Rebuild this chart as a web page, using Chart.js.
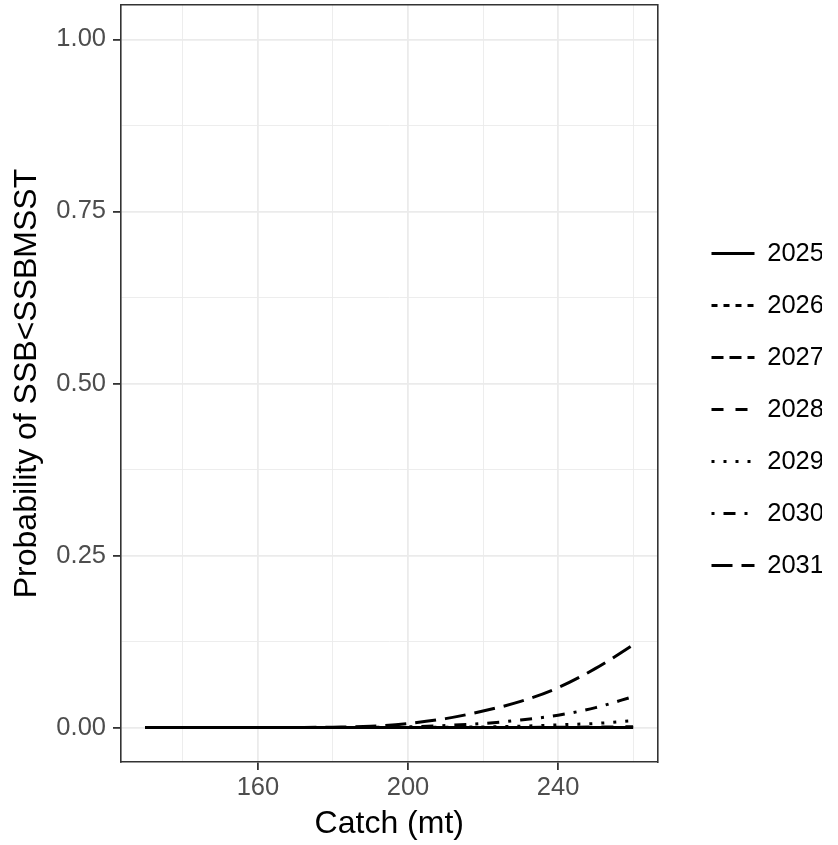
<!DOCTYPE html>
<html>
<head>
<meta charset="utf-8">
<script src="https://cdn.jsdelivr.net/npm/chart.js@4.4.1/dist/chart.umd.min.js"></script>
<style>
  html, body { margin: 0; padding: 0; background: #ffffff; }
</style>
</head>
<body>
<canvas id="graphProb" width="838" height="845"></canvas>
<script>
// ----------------------------------------------------------------------------------------------
// Données
const catchMt = [130, 140, 150, 160, 170, 180, 190, 200, 210, 220, 230, 240, 250, 260];
const years = ['2025', '2026', '2027', '2028', '2029', '2030', '2031'];

const prob2025 = [0, 0, 0, 0, 0, 0, 0, 0, 0, 0, 0, 0, 0, 0];
const prob2026 = [0, 0, 0, 0, 0, 0, 0, 0, 0, 0, 0, 0, 0, 0];
const prob2027 = [0, 0, 0, 0, 0, 0, 0, 0, 0, 0, 0, 0, 0, 0];
const prob2028 = [0, 0, 0, 0, 0, 0, 0, 0, 0, 0.0001, 0.0002, 0.0005, 0.0008, 0.0012];
const prob2029 = [0, 0, 0, 0, 0, 0, 0, 0.0002, 0.0005, 0.001, 0.002, 0.004, 0.006, 0.010];
const prob2030 = [0, 0, 0, 0, 0, 0, 0.0003, 0.001, 0.003, 0.006, 0.011, 0.018, 0.029, 0.045];
const prob2031 = [0, 0, 0, 0, 0.0002, 0.0006, 0.0018, 0.006, 0.013, 0.024, 0.038, 0.058, 0.086, 0.120];

const allProbs = [prob2025, prob2026, prob2027, prob2028, prob2029, prob2030, prob2031];

// graduations
const xGridValues = [140, 160, 180, 200, 220, 240, 260];
const xMajorTicks = [160, 200, 240];
const yGridValues = [0, 0.125, 0.25, 0.375, 0.5, 0.625, 0.75, 0.875, 1];
const yMajorTicks = [0, 0.25, 0.5, 0.75, 1];

// types de traits façon ggplot (unité = épaisseur du trait)
const lw = 3;
const dashes = [[], [2, 2], [4, 2], [4, 4], [1, 3], [1, 3, 4, 3], [7, 3]].map(d => d.map(v => v * lw));

const FONT = "'Liberation Sans', Arial, sans-serif";
const TICK_SIZE = 25.5;
const TITLE_SIZE = 32;
const majorX = v => xMajorTicks.includes(v);
const majorY = v => yMajorTicks.some(t => Math.abs(t - v) < 1e-9);

const datasets = years.map((year, i) => ({
    label: year,
    data: catchMt.map((c, k) => ({ x: c, y: allProbs[i][k] })),
    borderColor: '#000000',
    backgroundColor: '#000000',
    borderWidth: lw,
    borderDash: dashes[i],
    borderCapStyle: 'butt',
    pointRadius: 0,
    pointStyle: 'line',
    cubicInterpolationMode: 'monotone',
    fill: false
}));

// la légende ggplot est un peu plus haute que le centrage de Chart.js
const legendNudge = {
    id: 'legendNudge',
    afterLayout(chart) {
        if (!chart.legend) return;
        chart.legend.top -= 13;
        chart.legend.bottom -= 13;
    }
};

// pas de marge auto autour des axes : on fixe la zone du panneau
const noPad = s => { s.paddingTop = 0; s.paddingBottom = 0; s.paddingLeft = 0; s.paddingRight = 0; };

const ctx = document.getElementById('graphProb').getContext('2d');

new Chart(ctx, {
    type: 'line',
    data: { datasets },
    plugins: [legendNudge],
    options: {
        responsive: false,
        animation: false,
        devicePixelRatio: 1,
        layout: { padding: { top: 0, right: 16, bottom: 0, left: 0 } },
        plugins: {
            tooltip: { enabled: false },
            legend: {
                position: 'right',
                labels: {
                    usePointStyle: true,
                    pointStyleWidth: 43,
                    boxWidth: 43,
                    padding: 26.5,
                    color: '#000000',
                    font: { family: FONT, size: TICK_SIZE },
                    generateLabels: chart => Chart.defaults.plugins.legend.labels.generateLabels(chart)
                        .map(item => ({
                            ...item,
                            strokeStyle: '#000000',
                            lineWidth: lw,
                            lineDash: dashes[item.datasetIndex]
                        }))
                }
            }
        },
        scales: {
            x: {
                type: 'linear',
                min: 123.5,
                max: 266.5,
                afterBuildTicks: s => { s.ticks = xGridValues.map(v => ({ value: v })); },
                afterFit: s => { s.height = 83; noPad(s); },
                ticks: {
                    color: '#4D4D4D',
                    font: { family: FONT, size: TICK_SIZE },
                    padding: 3,
                    maxRotation: 0,
                    autoSkip: false,
                    callback: v => majorX(v) ? String(v) : ''
                },
                grid: {
                    color: '#EBEBEB',
                    lineWidth: c => majorX(c.tick.value) ? 1.8 : 0.9,
                    tickColor: c => majorX(c.tick.value) ? '#333333' : 'rgba(0,0,0,0)',
                    tickLength: 8,
                    tickWidth: 1.8
                },
                border: { display: true, color: '#333333', width: 1.6 },
                title: {
                    display: true,
                    text: 'Catch (mt)',
                    color: '#000000',
                    font: { family: FONT, size: TITLE_SIZE },
                    padding: { top: 0, bottom: 2 }
                }
            },
            x2: {
                type: 'linear',
                position: 'top',
                min: 123.5,
                max: 266.5,
                afterFit: s => { s.height = 5; noPad(s); },
                ticks: { display: false },
                grid: { drawOnChartArea: false, drawTicks: false },
                border: { display: true, color: '#333333', width: 1.6 }
            },
            y: {
                type: 'linear',
                min: -0.05,
                max: 1.05,
                afterBuildTicks: s => { s.ticks = yGridValues.map(v => ({ value: v })); },
                afterFit: s => { s.width = 121; noPad(s); },
                ticks: {
                    color: '#4D4D4D',
                    font: { family: FONT, size: TICK_SIZE },
                    padding: 7,
                    autoSkip: false,
                    callback: v => majorY(v) ? v.toFixed(2) : ''
                },
                grid: {
                    color: '#EBEBEB',
                    lineWidth: c => majorY(c.tick.value) ? 1.8 : 0.9,
                    tickColor: c => majorY(c.tick.value) ? '#333333' : 'rgba(0,0,0,0)',
                    tickLength: 8,
                    tickWidth: 1.8
                },
                border: { display: true, color: '#333333', width: 1.6 },
                title: {
                    display: true,
                    text: 'Probability of SSB<SSBMSST',
                    color: '#000000',
                    font: { family: FONT, size: TITLE_SIZE },
                    padding: { top: 8, bottom: 0 }
                }
            },
            y2: {
                type: 'linear',
                position: 'right',
                min: -0.05,
                max: 1.05,
                afterFit: s => { s.width = 27.5; noPad(s); },
                ticks: { display: false },
                grid: { drawOnChartArea: false, drawTicks: false },
                border: { display: true, color: '#333333', width: 1.6 }
            }
        }
    }
});
</script>
</body>
</html>
